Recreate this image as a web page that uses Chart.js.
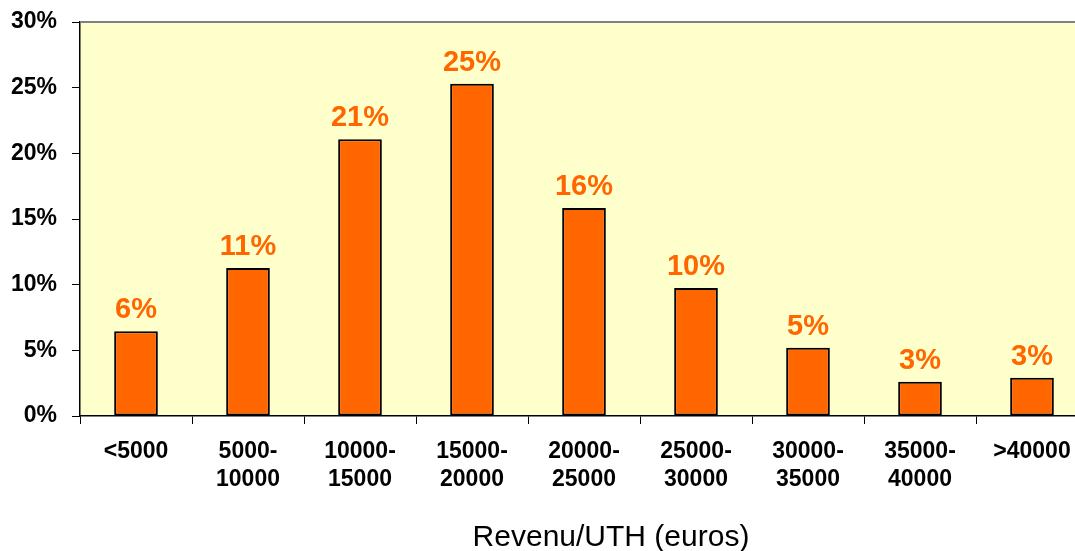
<!DOCTYPE html>
<html>
<head>
<meta charset="utf-8">
<script src="https://cdn.jsdelivr.net/npm/chart.js@4.4.1/dist/chart.umd.min.js"></script>
<style>
  html, body { margin: 0; padding: 0; background: #ffffff; overflow: hidden; }
  #wrap { position: absolute; left: 0; top: 0; width: 1090px; height: 551px; }
</style>
</head>
<body>
<div id="wrap"><canvas id="c" width="1090" height="551"></canvas></div>
<script>
const categories = [
  ['<5000'],
  ['5000-', '10000'],
  ['10000-', '15000'],
  ['15000-', '20000'],
  ['20000-', '25000'],
  ['25000-', '30000'],
  ['30000-', '35000'],
  ['35000-', '40000'],
  ['>40000']
];
const sharePct = [6.45, 11.27, 21.07, 25.3, 15.84, 9.75, 5.2, 2.61, 2.92];
const yTicks = [0, 5, 10, 15, 20, 25, 30];
const xTitle = 'Revenu/UTH (euros)';

const FONT = '"Liberation Sans", Arial, sans-serif';

const plotDeco = {
  id: 'plotDeco',
  beforeDraw(chart) {
    const a = chart.chartArea, ctx = chart.ctx;
    ctx.save();
    ctx.fillStyle = '#FFFFCC';
    ctx.fillRect(a.left, a.top, a.right - a.left, a.bottom - a.top);
    ctx.restore();
  },
  afterDraw(chart) {
    const a = chart.chartArea, ctx = chart.ctx;
    ctx.save();
    ctx.strokeStyle = '#808080';
    ctx.lineWidth = 2;
    ctx.beginPath();
    ctx.moveTo(a.left, a.top);
    ctx.lineTo(a.right, a.top);
    ctx.stroke();
    ctx.fillStyle = '#000000';
    ctx.font = '30px ' + FONT;
    ctx.textAlign = 'center';
    ctx.textBaseline = 'alphabetic';
    ctx.fillText(xTitle, 611, 546);
    ctx.restore();
  },
  afterDatasetsDraw(chart) {
    const ctx = chart.ctx;
    const meta = chart.getDatasetMeta(0);
    ctx.save();
    ctx.fillStyle = '#FF6600';
    ctx.font = 'bold 29px ' + FONT;
    ctx.textAlign = 'center';
    ctx.textBaseline = 'alphabetic';
    meta.data.forEach((bar, i) => {
      ctx.fillText(Math.round(sharePct[i]) + '%', bar.x, bar.y - 13);
    });
    ctx.restore();
  }
};

new Chart(document.getElementById('c'), {
  type: 'bar',
  data: {
    labels: categories,
    datasets: [{
      data: sharePct,
      backgroundColor: '#FF6600',
      borderColor: '#000000',
      borderWidth: 2,
      borderSkipped: false,
      barPercentage: 0.39,
      categoryPercentage: 1.0
    }]
  },
  options: {
    responsive: false,
    animation: false,
    layout: { autoPadding: false, padding: { top: 22, right: 2, left: 0, bottom: 0 } },
    plugins: { legend: { display: false }, tooltip: { enabled: false }, title: { display: false } },
    scales: {
      x: {
        afterFit(s) { s.height = 135; s.paddingLeft = 0; s.paddingRight = 0; },
        grid: { display: true, drawOnChartArea: false, drawTicks: true, tickLength: 8, color: '#000000', lineWidth: 1, offset: true },
        border: { display: true, color: '#000000', width: 1.5 },
        ticks: {
          color: '#000000',
          font: { family: FONT, size: 23, weight: 'bold', lineHeight: 1.24 },
          padding: 13,
          maxRotation: 0,
          autoSkip: false
        }
      },
      y: {
        min: 0, max: 30,
        afterFit(s) { s.width = 80; s.paddingTop = 0; s.paddingBottom = 0; },
        afterBuildTicks(s) { s.ticks = yTicks.map(v => ({ value: v })); },
        grid: { display: true, drawOnChartArea: false, drawTicks: true, tickLength: 8, color: '#000000', lineWidth: 1 },
        border: { display: true, color: '#000000', width: 1.5 },
        ticks: {
          color: '#000000',
          font: { family: FONT, size: 23, weight: 'bold' },
          padding: 15,
          callback: v => v + '%'
        }
      }
    }
  },
  plugins: [plotDeco]
});
</script>
</body>
</html>
